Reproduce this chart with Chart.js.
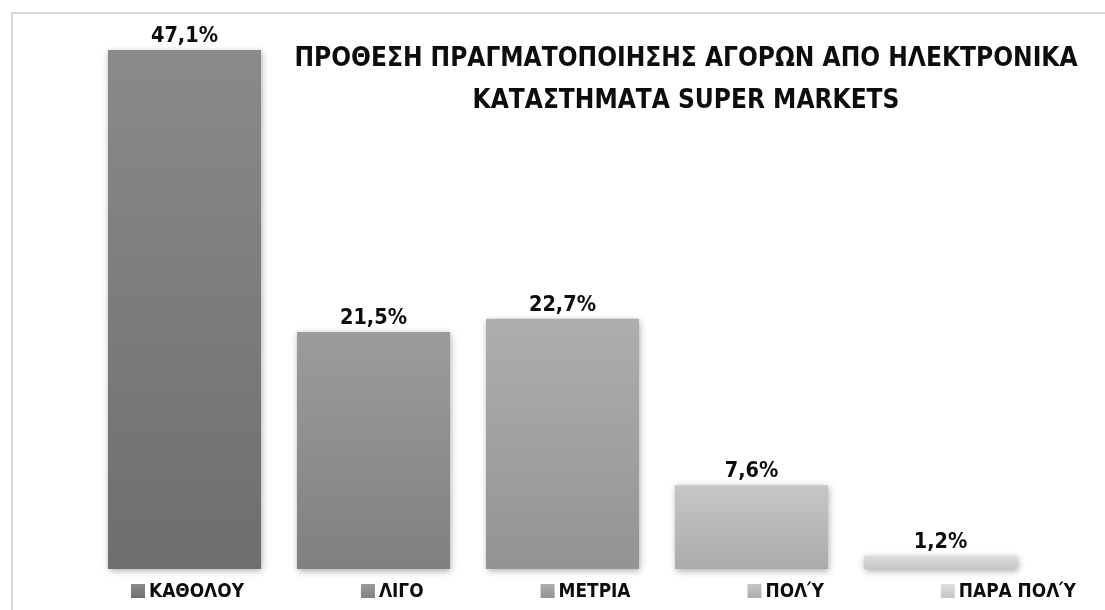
<!DOCTYPE html>
<html>
<head>
<meta charset="utf-8">
<script src="https://cdn.jsdelivr.net/npm/chart.js@4.4.1/dist/chart.umd.min.js"></script>
<style>
  html, body { margin: 0; padding: 0; background: #ffffff; }
  #wrap { position: relative; width: 1105px; height: 610px; }
</style>
</head>
<body>
<div id="wrap"><canvas id="c" width="1105" height="610"></canvas></div>
<script>
// ---- data ----
const categories = ["ΚΑΘΟΛΟΥ", "ΛΙΓΟ", "ΜΕΤΡΙΑ", "ΠΟΛΎ", "ΠΑΡΑ ΠΟΛΎ"];
const values = [47.1, 21.5, 22.7, 7.6, 1.2];
const titleLines = ["ΠΡΟΘΕΣΗ ΠΡΑΓΜΑΤΟΠΟΙΗΣΗΣ ΑΓΟΡΩΝ ΑΠΟ ΗΛΕΚΤΡΟΝΙΚΑ", "ΚΑΤΑΣΤΗΜΑΤΑ SUPER MARKETS"];
const topColors = ["#8a8a8a", "#9c9c9c", "#aeaeae", "#c6c6c6", "#dedede"];
const bottomColors = ["#6e6e6e", "#808080", "#939393", "#acacac", "#c6c6c6"];

// pick an installed, narrow-ish font (closest to Calibri look)
function pickFont() {
  const c = document.createElement('canvas').getContext('2d');
  const probe = 'ΚΑΘΟΛΟΥ ΠΡΟΘΕΣΗ 47,1% mmmWWW';
  const candidates = ['Liberation Sans Narrow', 'DejaVu Sans Condensed', 'Open Sans'];
  for (const f of candidates) {
    c.font = 'bold 40px monospace';
    const a = c.measureText(probe).width;
    c.font = 'bold 40px "' + f + '", monospace';
    const b = c.measureText(probe).width;
    if (Math.abs(a - b) > 1) return '"' + f + '", "Open Sans", sans-serif';
  }
  return '"Open Sans", sans-serif';
}
const FONT = pickFont();

function fitSize(ctx, text, targetW) {
  ctx.font = 'bold 100px ' + FONT;
  return 100 * targetW / ctx.measureText(text).width;
}

function fmt(v) { return v.toFixed(1).replace('.', ',') + '%'; }

function barGradient(i) {
  return function (ctx) {
    const chart = ctx.chart;
    if (!chart.chartArea || ctx.raw === undefined) return topColors[i];
    const y = chart.scales.y;
    const top = y.getPixelForValue(ctx.raw);
    const bot = y.getPixelForValue(0);
    const g = chart.ctx.createLinearGradient(0, top, 0, bot);
    g.addColorStop(0, topColors[i]);
    g.addColorStop(1, bottomColors[i]);
    return g;
  };
}

const datasets = categories.map((name, i) => ({
  label: name,
  data: [values[i]],
  backgroundColor: barGradient(i),
  borderWidth: 0,
  categoryPercentage: 1.0,
  barPercentage: 0.81,
  clip: false
}));

const framePlugin = {
  id: 'frame',
  beforeDraw(chart) {
    const ctx = chart.ctx;
    ctx.save();
    ctx.fillStyle = '#ffffff';
    ctx.fillRect(0, 0, chart.width, chart.height);
    ctx.strokeStyle = '#d9d9d9';
    ctx.lineWidth = 2;
    ctx.strokeRect(12, 13, 3000, 3000);
    ctx.restore();
  }
};

const shadowPlugin = {
  id: 'shadow',
  beforeDatasetsDraw(chart) {
    const ctx = chart.ctx;
    ctx.save();
    ctx.shadowColor = 'rgba(0,0,0,0.35)';
    ctx.shadowBlur = 7;
    ctx.shadowOffsetX = 1;
    ctx.shadowOffsetY = 2;
  },
  afterDatasetsDraw(chart) {
    chart.ctx.restore();
  }
};

const labelPlugin = {
  id: 'valueLabels',
  afterDatasetsDraw(chart) {
    const ctx = chart.ctx;
    ctx.save();
    const size = Math.min(24, fitSize(ctx, '47,1%', 67));
    ctx.font = 'bold ' + size.toFixed(2) + 'px ' + FONT;
    ctx.fillStyle = '#0d0d0d';
    ctx.textAlign = 'center';
    ctx.textBaseline = 'alphabetic';
    chart.data.datasets.forEach((ds, i) => {
      const el = chart.getDatasetMeta(i).data[0];
      ctx.fillText(fmt(ds.data[0]), el.x, el.y - 8);
    });
    ctx.restore();
  }
};

const titlePlugin = {
  id: 'innerTitle',
  afterDraw(chart) {
    const ctx = chart.ctx;
    ctx.save();
    const size = Math.min(26, fitSize(ctx, titleLines[0], 798));
    ctx.font = 'bold ' + size.toFixed(2) + 'px ' + FONT;
    ctx.fillStyle = '#0d0d0d';
    ctx.textAlign = 'center';
    ctx.textBaseline = 'alphabetic';
    const cx = 686;
    ctx.fillText(titleLines[0], cx, 66);
    ctx.fillText(titleLines[1], cx, 108);
    ctx.restore();
  }
};

const legendPlugin = {
  id: 'bottomLegend',
  afterDraw(chart) {
    const ctx = chart.ctx;
    ctx.save();
    const size = Math.min(24, fitSize(ctx, 'ΚΑΘΟΛΟΥ', 95));
    ctx.font = 'bold ' + size.toFixed(2) + 'px ' + FONT;
    const box = 14, gapBT = 4;
    const left = 131, right = 1076;
    const dsets = chart.data.datasets;
    let widths = dsets.map(d => box + gapBT + ctx.measureText(d.label).width);
    let sum = widths.reduce((a, b) => a + b, 0);
    const gap = (right - left - sum) / (dsets.length - 1);
    let x = left;
    const cy = 591;
    ctx.textBaseline = 'middle';
    ctx.textAlign = 'left';
    dsets.forEach((d, i) => {
      const g = ctx.createLinearGradient(0, cy - box / 2, 0, cy + box / 2);
      g.addColorStop(0, topColors[i]);
      g.addColorStop(1, bottomColors[i]);
      ctx.fillStyle = g;
      ctx.fillRect(x, cy - box / 2, box, box);
      ctx.fillStyle = '#0d0d0d';
      ctx.fillText(d.label, x + box + gapBT, cy + 1);
      x += widths[i] + gap;
    });
    ctx.restore();
  }
};

new Chart(document.getElementById('c'), {
  type: 'bar',
  data: { labels: [''], datasets: datasets },
  options: {
    responsive: false,
    animation: false,
    devicePixelRatio: 1,
    layout: { padding: { left: 90, right: 70, top: 18, bottom: 41 } },
    plugins: {
      legend: { display: false },
      title: { display: false },
      tooltip: { enabled: false }
    },
    scales: {
      x: { display: false, grid: { display: false } },
      y: { display: false, min: 0, max: 50, grid: { display: false } }
    }
  },
  plugins: [framePlugin, shadowPlugin, labelPlugin, titlePlugin, legendPlugin]
});
</script>
</body>
</html>
